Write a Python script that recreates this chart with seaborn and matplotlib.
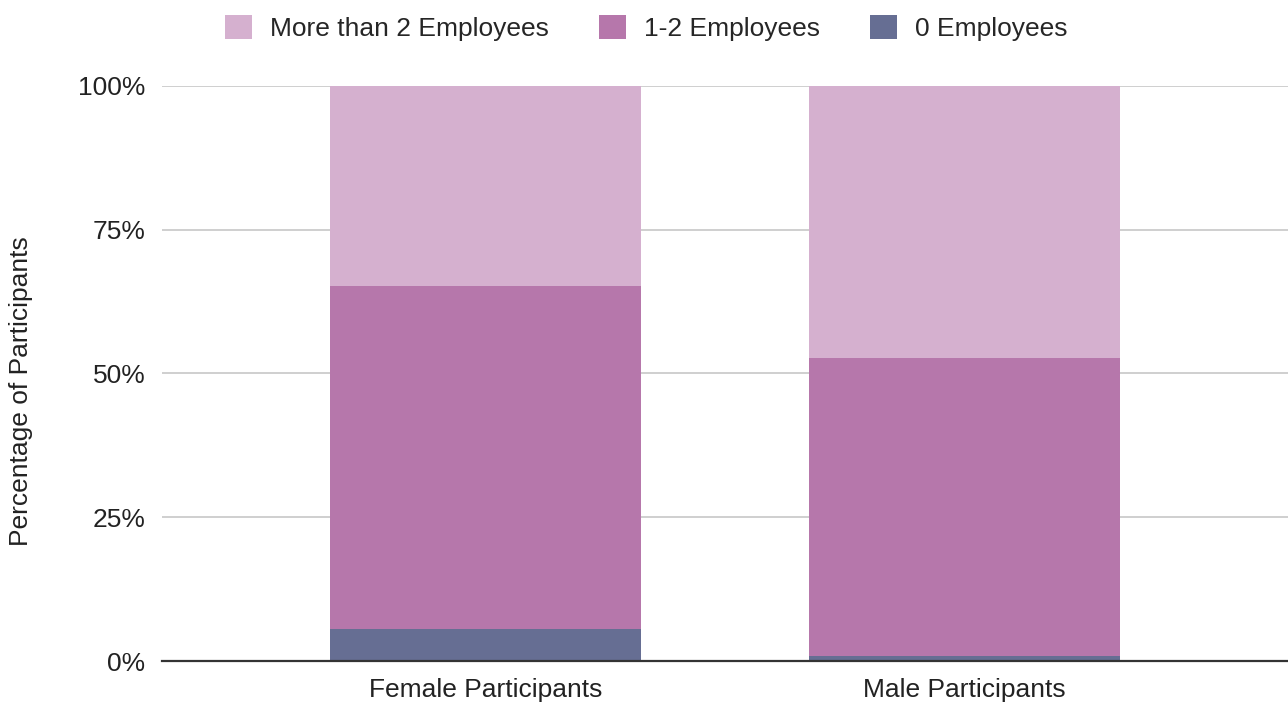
import matplotlib.pyplot as plt
import seaborn as sns
import pandas as pd
from matplotlib.patches import Patch

groups = ["Female Participants", "Male Participants"]
zero_emp = [5.5, 0.8]
one_two_emp = [59.8, 51.9]
more_two_emp = [34.7, 47.3]

series = ["More than 2 Employees", "1-2 Employees", "0 Employees"]
colors = ["#d5b0cf", "#b677ab", "#666e93"]

df = pd.DataFrame({
    "group": groups,
    "zero": zero_emp,
    "one_two": one_two_emp,
    "more": more_two_emp,
})
# cumulative heights so the bars stack
df["top_zero"] = df["zero"]
df["top_one_two"] = df["zero"] + df["one_two"]
df["top_more"] = df["top_one_two"] + df["more"]

sns.set_style("white")
plt.rcParams["font.family"] = ["Liberation Sans", "DejaVu Sans"]

fig = plt.figure(figsize=(12.88, 7.02), dpi=100)
ax = fig.add_axes([0.1258, 0.0584, 0.8742, 0.8191])

for col, c in zip(["top_more", "top_one_two", "top_zero"], colors):
    sns.barplot(data=df, x="group", y=col, color=c, width=0.65,
                saturation=1, linewidth=0, ax=ax, zorder=3)

ax.set_xlim(-0.675, 1.675)
ax.set_ylim(0, 100)
ax.set_yticks([0, 25, 50, 75, 100])
ax.set_yticklabels(["0%", "25%", "50%", "75%", "100%"])
ax.grid(axis="y", color="#cccccc", linewidth=1.3, zorder=0)
ax.set_axisbelow(True)
for s in ["top", "right", "left"]:
    ax.spines[s].set_visible(False)
ax.spines["bottom"].set_color("#333333")
ax.spines["bottom"].set_linewidth(1.6)
ax.spines["bottom"].set_zorder(5)
ax.tick_params(axis="y", length=0, labelsize=19, colors="#222222", pad=12)
ax.tick_params(axis="x", length=0, labelsize=19, colors="#222222", pad=12)
ax.set_xlabel("")
ax.set_ylabel("Percentage of Participants", fontsize=19, color="#222222")
ax.yaxis.set_label_coords(-0.115, 0.47)

handles = [Patch(facecolor=c, edgecolor="none") for c in colors]
fig.legend(handles, series, loc="upper center", bbox_to_anchor=(0.502, 1.012),
           ncol=3, frameon=False, fontsize=19, handlelength=1.0,
           handleheight=1.0, handletextpad=0.7, columnspacing=1.9)

fig.savefig("out.png", dpi=100)
